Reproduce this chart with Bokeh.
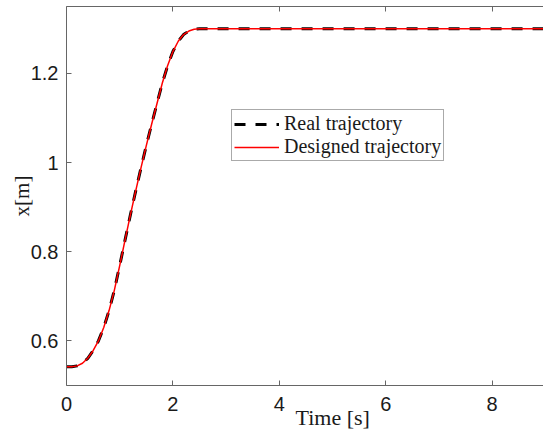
from bokeh.plotting import figure
from bokeh.models import (LinearAxis, FixedTicker, Title, Legend, LegendItem, Range1d,
                          CustomLabelingPolicy)
from bokeh.embed import file_html
from bokeh.resources import INLINE

# Trajectory samples: time [s] and position x [m]
time_s = [0.0, 0.1, 0.2, 0.3, 0.4, 0.5, 0.6, 0.7, 0.8, 0.9,
          1.0, 1.1, 1.2, 1.3, 1.4, 1.5, 1.6, 1.7, 1.8, 1.9,
          2.0, 2.1, 2.2, 2.3, 2.4, 2.5, 2.6, 9.0]
designed_x = [0.542, 0.542, 0.544, 0.550, 0.561, 0.578, 0.600, 0.630, 0.668, 0.714,
              0.769, 0.826, 0.882, 0.936, 0.988, 1.038, 1.086, 1.132, 1.178, 1.217,
              1.249, 1.272, 1.287, 1.295, 1.299, 1.300, 1.300, 1.300]
real_x = [0.542, 0.542, 0.544, 0.550, 0.561, 0.578, 0.600, 0.630, 0.668, 0.714,
          0.769, 0.826, 0.882, 0.936, 0.988, 1.038, 1.086, 1.132, 1.178, 1.217,
          1.249, 1.272, 1.287, 1.295, 1.299, 1.300, 1.300, 1.300]

x_ticks = [0, 2, 4, 6, 8]
y_ticks = [0.6, 0.8, 1.0, 1.2]
y_tick_labels = ["0.6", "0.8", "1", "1.2"]

AXIS_COLOR = "#666666"
TEXT_COLOR = "#1a1a1a"

p = figure(frame_width=477, frame_height=379,
           x_range=Range1d(0, 8.966), y_range=Range1d(0.5, 1.35),
           output_backend="svg", toolbar_location=None,
           min_border_left=66, min_border_right=0,
           min_border_top=6, min_border_bottom=46)
p.outline_line_color = None
p.xgrid.visible = False
p.ygrid.visible = False
p.background_fill_color = "white"
p.border_fill_color = "white"

r_real = p.line(time_s, real_x, line_color="black", line_width=3, line_dash="11 10")
r_des = p.line(time_s, designed_x, line_color="#ff0000", line_width=1.5)

def style_axis(ax):
    ax.axis_line_color = AXIS_COLOR
    ax.major_tick_line_color = AXIS_COLOR
    ax.major_tick_in = 5
    ax.major_tick_out = 0
    ax.minor_tick_line_color = None
    ax.major_label_text_font = "Liberation Sans"
    ax.major_label_text_font_size = "20px"
    ax.major_label_text_color = TEXT_COLOR

xa = p.xaxis[0]
xa.ticker = FixedTicker(ticks=x_ticks)
style_axis(xa)
xa.major_label_standoff = 11

ya = p.yaxis[0]
ya.ticker = FixedTicker(ticks=y_ticks)
style_axis(ya)
ya.major_label_standoff = 8
ya.major_label_overrides = {t: s for t, s in zip(y_ticks, y_tick_labels)}
ya.axis_label = "x[m]"
ya.axis_label_text_font = "Liberation Serif"
ya.axis_label_text_font_size = "21px"
ya.axis_label_text_font_style = "normal"
ya.axis_label_text_color = TEXT_COLOR
ya.axis_label_standoff = -6

# top box edge with inward ticks only; its labels are all suppressed
top = LinearAxis(ticker=FixedTicker(ticks=x_ticks))
style_axis(top)
top.major_label_text_font_size = "0px"
top.major_label_standoff = 0
top.major_label_policy = CustomLabelingPolicy(
    code="return new indices.constructor(indices.size)")
p.add_layout(top, "above")

# x-axis caption, set off to the right of the frame centre
xlabel = Title(text="Time [s]", align="left", offset=229, standoff=-21,
               text_font="Liberation Serif", text_font_size="22px",
               text_font_style="normal", text_color=TEXT_COLOR)
p.add_layout(xlabel, "below")

legend = Legend(items=[LegendItem(label="Real trajectory", renderers=[r_real]),
                       LegendItem(label="Designed trajectory", renderers=[r_des])],
                location=(165, 224))
legend.label_text_font = "Liberation Serif"
legend.label_text_font_size = "20px"
legend.label_text_color = TEXT_COLOR
legend.glyph_width = 45
legend.glyph_height = 18
legend.label_height = 18
legend.label_standoff = 5
legend.padding = 2
legend.spacing = 0
legend.margin = 0
legend.border_line_color = "#555555"
legend.border_line_width = 1
legend.background_fill_alpha = 1
p.add_layout(legend)

open("out.html", "w").write(file_html(p, INLINE))
